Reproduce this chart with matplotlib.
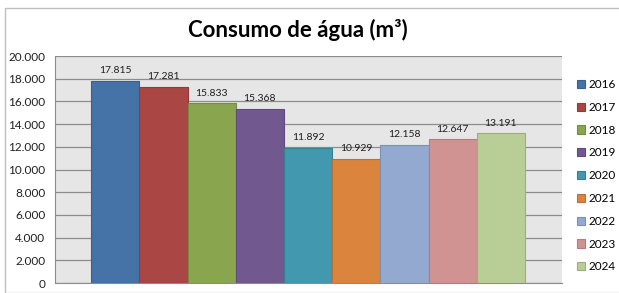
import matplotlib.pyplot as plt
from matplotlib.patches import Rectangle
from matplotlib.ticker import FuncFormatter

plt.rcParams['font.family'] = ['Lato', 'DejaVu Sans']

# données
anos = ['2016', '2017', '2018', '2019', '2020', '2021', '2022', '2023', '2024']
consumo = [17815, 17281, 15833, 15368, 11892, 10929, 12158, 12647, 13191]
cores = ['#4572A7', '#AA4643', '#89A54E', '#71588F', '#4198AF',
         '#DB843D', '#93A9CF', '#D19392', '#B9CD96']
bordas = ['#3A6090', '#903B39', '#758D42', '#5F4A79', '#378195',
          '#BA7034', '#7D90B0', '#B27D7C', '#9DAE80']

def fmt_pt(v):
    return f'{int(v):,}'.replace(',', '.')

fig = plt.figure(figsize=(6.19, 2.93), dpi=100)
fig.patches.append(Rectangle((5 / 619, 0), 1, 1 - 8 / 293, transform=fig.transFigure,
                             fill=False, edgecolor='#BFBFBF', linewidth=1))

ax = fig.add_axes([55 / 619, 10 / 293, 507 / 619, 227 / 293])
ax.set_facecolor('#E6E6E6')

for i, (ano, v) in enumerate(zip(anos, consumo)):
    ax.bar(i, v, width=1.0, color=cores[i], edgecolor=bordas[i],
           linewidth=0.8, label=ano, zorder=3)
    ax.annotate(fmt_pt(v), (i, v), xytext=(0, 4), textcoords='offset points',
                ha='center', va='bottom', fontsize=7.5, color='#202020')

ax.set_xlim(-1.25, 9.27)
ax.set_ylim(0, 20000)
ax.set_yticks(range(0, 20001, 2000))
ax.yaxis.set_major_formatter(FuncFormatter(lambda v, p: fmt_pt(v)))
ax.set_xticks([])
ax.tick_params(axis='y', length=0, labelsize=8.5, pad=7, colors='#202020')
ax.grid(axis='y', color='#8C8C8C', linewidth=0.9, zorder=1)
for s in ['top', 'right']:
    ax.spines[s].set_visible(False)
ax.spines['left'].set_color('#8C8C8C')
ax.spines['bottom'].set_color('#8C8C8C')

ax.legend(loc='upper left', bbox_to_anchor=(577 / 619, 1 - 79 / 293),
          bbox_transform=fig.transFigure, frameon=False, fontsize=8.5,
          handlelength=0.7, handleheight=0.7, handletextpad=0.25,
          labelspacing=1.0, borderaxespad=0, borderpad=0)

fig.text(298 / 619, 1 - 30 / 293, 'Consumo de água (m³)', ha='center', va='center',
         fontsize=16, fontweight='bold', color='#000000')

fig.savefig('out.png', dpi=100)
